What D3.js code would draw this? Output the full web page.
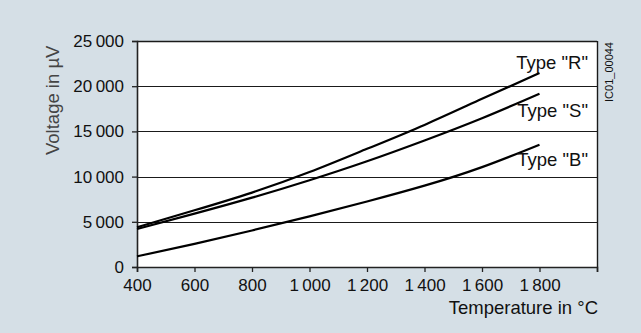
<!DOCTYPE html>
<html>
<head>
<meta charset="utf-8">
<script src="https://cdn.jsdelivr.net/npm/d3@7"></script>
<style>
    html, body { margin: 0; padding: 0; background: #d5dfe6; }
    svg { display: block; font-family: "Liberation Sans", Arial, sans-serif; }
</style>
</head>
<body>
<svg id="drawing_region"></svg>
<script>
// temperatures in degC
const temps = [400, 600, 800, 1000, 1200, 1400, 1600, 1800];

// thermo voltage in uV
const type_r = [4400, 6270, 8230, 10500, 13070, 15720, 18600, 21450];
const type_s = [4200, 5900, 7670, 9600, 11700, 14000, 16460, 19170];
const type_b = [1180, 2560, 4040, 5600, 7250, 9000, 11050, 13530];

const series_names = ['Type "R"', 'Type "S"', 'Type "B"'];
const series_values = [type_r, type_s, type_b];

const x_ticks = [400, 600, 800, 1000, 1200, 1400, 1600, 1800, 2000];
const x_labels = [400, 600, 800, 1000, 1200, 1400, 1600, 1800];
const y_ticks = [0, 5000, 10000, 15000, 20000, 25000];

class LineChart {

    constructor(config) {
        this.config = {
            parent: config.parent,
            width: config.width,
            height: config.height,
            margin: config.margin
        };
        this.init();
    }

    init() {
        const self = this;

        self.svg = d3.select(self.config.parent)
            .attr('width', self.config.width)
            .attr('height', self.config.height);

        self.chart = self.svg.append('g')
            .attr('transform', `translate(${self.config.margin.left}, ${self.config.margin.top})`);

        self.inner_width = self.config.width - self.config.margin.left - self.config.margin.right;
        self.inner_height = self.config.height - self.config.margin.top - self.config.margin.bottom;

        self.xscale = d3.scaleLinear()
            .domain([400, 2000])
            .range([0, self.inner_width]);

        self.yscale = d3.scaleLinear()
            .domain([0, 25000])
            .range([self.inner_height, 0]);
    }

    render() {
        const self = this;
        const fmt = v => d3.format(',')(v).replace(/,/g, '\u2009');

        // white plot area
        self.chart.append('rect')
            .attr('width', self.inner_width)
            .attr('height', self.inner_height)
            .attr('fill', '#fff');

        // horizontal grid (top one doubles as frame)
        self.chart.append('g')
            .selectAll('line')
            .data(y_ticks.slice(1))
            .join('line')
            .attr('x1', 0)
            .attr('x2', self.inner_width)
            .attr('y1', d => Math.round(self.yscale(d)) + 0.5)
            .attr('y2', d => Math.round(self.yscale(d)) + 0.5)
            .attr('stroke', '#1a1a1a')
            .attr('stroke-width', d => d === 25000 ? 1.4 : 1);

        // right frame
        self.chart.append('line')
            .attr('x1', self.inner_width + 0.5)
            .attr('x2', self.inner_width + 0.5)
            .attr('y1', 0)
            .attr('y2', self.inner_height)
            .attr('stroke', '#1a1a1a')
            .attr('stroke-width', 1.4);

        // axes
        const xaxis = d3.axisBottom(self.xscale)
            .tickValues(x_ticks)
            .tickSize(5)
            .tickPadding(7)
            .tickFormat(d => x_labels.includes(d) ? fmt(d) : '');

        const yaxis = d3.axisLeft(self.yscale)
            .tickValues(y_ticks)
            .tickSize(5)
            .tickPadding(8)
            .tickFormat(fmt);

        const xg = self.chart.append('g')
            .attr('transform', `translate(0, ${self.inner_height})`)
            .call(xaxis);

        const yg = self.chart.append('g')
            .call(yaxis);

        [xg, yg].forEach(g => {
            g.attr('font-family', null).attr('font-size', null);
            g.selectAll('text').attr('font-size', 17).attr('fill', '#111');
            g.selectAll('line').attr('stroke', '#222').attr('stroke-width', 1.3);
            g.select('.domain').attr('stroke', '#222').attr('stroke-width', 1.6);
        });
        xg.selectAll('text').attr('dy', '0.71em');

        // curves
        const line = d3.line()
            .x((d, i) => self.xscale(temps[i]))
            .y(d => self.yscale(d))
            .curve(d3.curveNatural);

        self.chart.append('g')
            .selectAll('path')
            .data(series_values)
            .join('path')
            .attr('d', line)
            .attr('fill', 'none')
            .attr('stroke', '#000')
            .attr('stroke-width', 2.2);

        // curve labels
        const label_y = [69, 117, 166];
        self.chart.append('g')
            .selectAll('text')
            .data(series_names)
            .join('text')
            .attr('x', self.inner_width - 9)
            .attr('y', (d, i) => label_y[i] - self.config.margin.top)
            .attr('text-anchor', 'end')
            .attr('font-size', 18.5)
            .attr('fill', '#111')
            .text(d => d);

        // axis titles
        self.chart.append('text')
            .attr('x', self.inner_width + 1)
            .attr('y', self.inner_height + 47)
            .attr('text-anchor', 'end')
            .attr('font-size', 18.5)
            .attr('fill', '#111')
            .text('Temperature in °C');

        self.svg.append('text')
            .attr('transform', 'translate(59, 155) rotate(-90)')
            .attr('font-size', 18.5)
            .attr('fill', '#444')
            .text('Voltage in µV');

        self.svg.append('text')
            .attr('transform', 'translate(613, 42) rotate(-90)')
            .attr('text-anchor', 'end')
            .attr('font-size', 11)
            .attr('fill', '#111')
            .text('IC01_00044');
    }
}

const config = {
    parent: '#drawing_region',
    width: 641,
    height: 333,
    margin: { top: 41, right: 44, bottom: 66, left: 137 }
};

const chart = new LineChart(config);
chart.render();
</script>
</body>
</html>
